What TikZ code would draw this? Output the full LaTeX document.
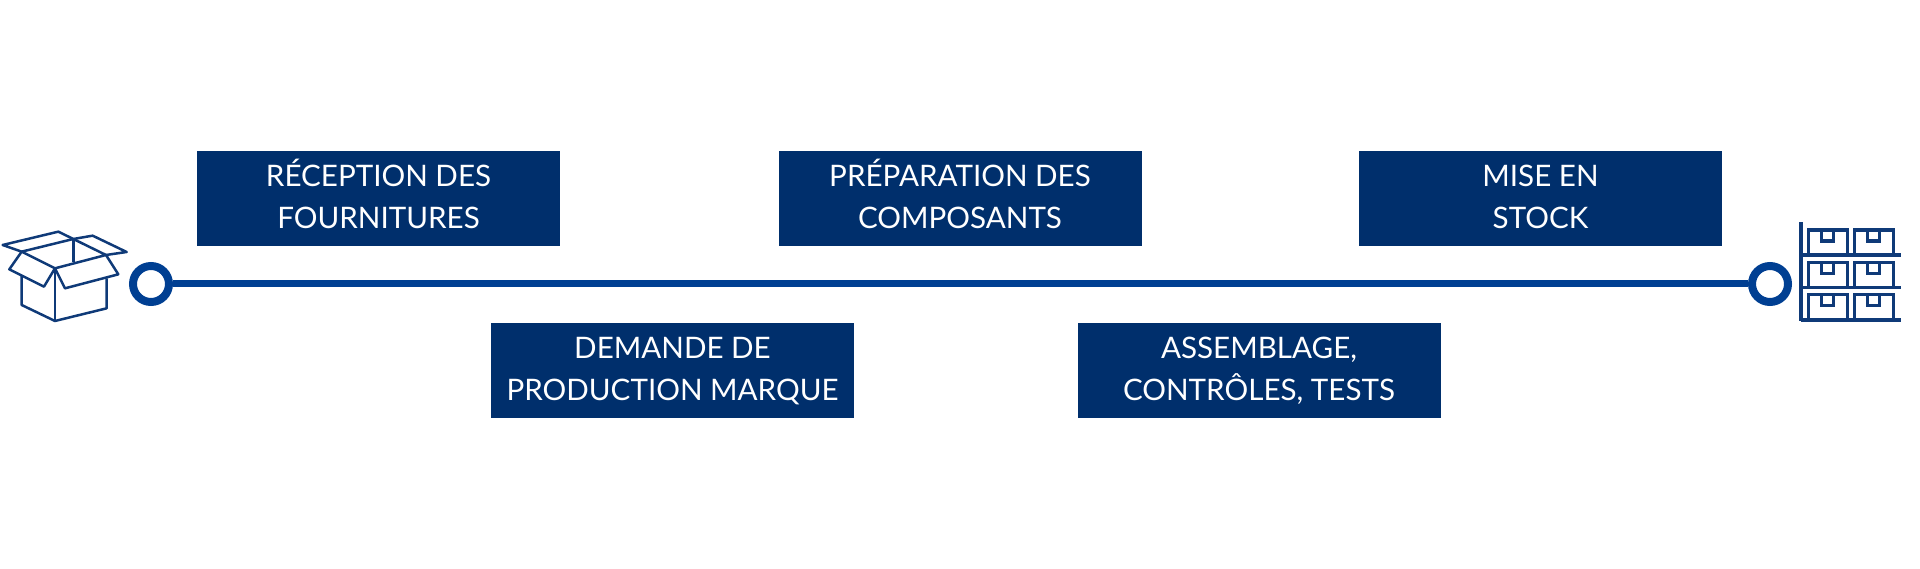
\documentclass[tikz,border=0pt]{standalone}
\usepackage{fontspec}
\setmainfont{Lato}
\definecolor{boxblue}{HTML}{002F6C}
\definecolor{lineblue}{HTML}{003F92}
\definecolor{iconblue}{HTML}{0F3A78}
\tikzset{
  stepbox/.style={fill=boxblue,text=white,minimum width=363pt,minimum height=95pt,inner sep=0pt,align=center,font=\fontsize{29.6}{42}\selectfont},
  ringnode/.style={circle,draw=lineblue,line width=8pt,fill=white,minimum size=36pt,inner sep=0pt},
  mainline/.style={draw=lineblue,line width=7pt},
  iconline/.style={draw=iconblue,line width=2.5pt,line join=round},
  shelfline/.style={draw=iconblue,line width=3.2pt,line join=miter}
}
\newcommand{\steptext}[2]{\vphantom{É}#1\\#2\rule[-8.5pt]{0pt}{1pt}}
\newcommand{\shelfbox}[2]{%
  \draw[shelfline] (#1,#2+75) -- (#1,#2) -- (#1+117,#2) -- (#1+117,#2+75);
  \draw[shelfline] (#1+40,#2) -- (#1+40,#2+33) -- (#1+75,#2+33) -- (#1+75,#2);
}
\begin{document}
\begin{tikzpicture}[x=1pt,y=-1pt]
\useasboundingbox (0,0) rectangle (1920,569);
\node[stepbox] (s1) at (378.5,198.5) {\steptext{RÉCEPTION DES}{FOURNITURES}};
\node[stepbox] (s2) at (672.5,370.5) {\steptext{DEMANDE DE}{PRODUCTION MARQUE}};
\node[stepbox] (s3) at (960,198.5) {\steptext{PRÉPARATION DES}{COMPOSANTS}};
\node[stepbox] (s4) at (1259,370.5) {\steptext{ASSEMBLAGE,}{CONTRÔLES, TESTS}};
\node[stepbox] (s5) at (1540.5,198.5) {\steptext{MISE EN}{STOCK}};
\node[ringnode] (a) at (151,284) {};
\node[ringnode] (b) at (1770,284) {};
\draw[mainline] (a) -- (b);
\begin{scope}[shift={(0,210)},x=0.3333pt,y=-0.3333pt]
  \draw[iconline] (65,125) -- (8,105) -- (175,65) -- (220,87) -- (278,77) -- (380,126) -- (318,135);
  \draw[iconline] (65,125) -- (220,87) -- (318,135) -- (165,175) -- cycle;
  \draw[iconline] (220,87) -- (220,155);
  \draw[iconline] (65,125) -- (28,178) -- (132,230) -- (165,175);
  \draw[iconline] (165,175) -- (195,235) -- (355,193) -- (318,135);
  \draw[iconline] (65,197) -- (65,285) -- (165,333) -- (320,295) -- (320,205);
  \draw[iconline] (165,175) -- (165,333);
\end{scope}
\begin{scope}[shift={(1730,210)},x=0.3333pt,y=-0.3333pt]
  \draw[shelfline] (213,37) -- (213,332);
  \foreach \yy in {135,233,330} \draw[shelfline] (213,\yy) -- (512,\yy);
  \foreach \yy in {60,157,254} {
    \shelfbox{235}{\yy}
    \shelfbox{373}{\yy}
  }
\end{scope}
\end{tikzpicture}
\end{document}
